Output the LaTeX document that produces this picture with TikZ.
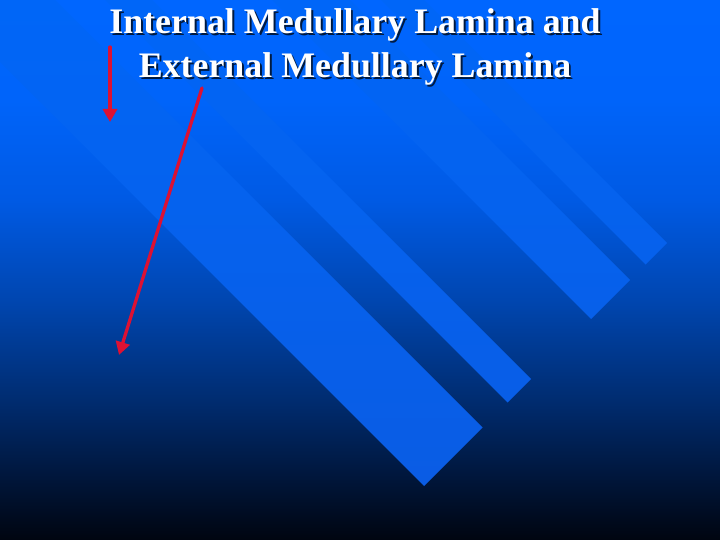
\documentclass[tikz,border=0pt]{standalone}
\usepackage{fontspec}
\setmainfont{Liberation Serif}
\usepackage{xcolor}
\usepackage{tikz}
\usetikzlibrary{arrows.meta}
\definecolor{bgA}{HTML}{0066FF}
\definecolor{bgB}{HTML}{0064FA}
\definecolor{bgC}{HTML}{005AE4}
\definecolor{bgD}{HTML}{0046B0}
\definecolor{bgE}{HTML}{002C70}
\definecolor{bgF}{HTML}{001840}
\definecolor{bgG}{HTML}{000510}
\definecolor{bandA}{HTML}{0066F8}
\definecolor{bandB}{HTML}{0562EE}
\definecolor{bandC}{HTML}{0A5CE4}
\definecolor{ptr}{HTML}{DD1133}
\definecolor{ink}{HTML}{FFFFFF}
\definecolor{shade}{HTML}{001A40}
\pgfdeclareverticalshading{slidebg}{100bp}{%
  color(0bp)=(bgG); color(25bp)=(bgG); color(31.48bp)=(bgF);
  color(37.96bp)=(bgE); color(47.22bp)=(bgD); color(56.48bp)=(bgC);
  color(65.74bp)=(bgB); color(75bp)=(bgA); color(100bp)=(bgA)}
\pgfdeclareverticalshading{bandsh}{100bp}{%
  color(0bp)=(bandC); color(29.63bp)=(bandC); color(56.48bp)=(bandB);
  color(75bp)=(bandA); color(100bp)=(bandA)}
\newcommand{\shtext}[1]{\makebox[0pt][l]{\hspace*{2bp}\raisebox{-2bp}{\textcolor{shade}{#1}}}#1}
\tikzset{
  ptr/.style={draw=ptr, line width=3.3bp, line cap=round,
    -{Triangle[length=13bp,width=14bp]}},
  ttl/.style={text=ink, font=\fontsize{36}{44}\bfseries\selectfont, anchor=base, inner sep=0pt},
}

\begin{document}
\begin{tikzpicture}[x=1bp,y=-1bp]
  \useasboundingbox (0,0) rectangle (720,540);
  \shade[shading=slidebg] (0,0) rectangle (720,540);
  % the four slanted bands
  \begin{scope}
    \clip \foreach \lo/\hi in {62/-55,-105/-152,-272/-350,-381/-424} {
      ({(910-\lo)/2},{(910+\lo)/2}) -- ({(910-\hi)/2},{(910+\hi)/2})
      -- ({(-300-\hi)/2},{(-300+\hi)/2}) -- ({(-300-\lo)/2},{(-300+\lo)/2}) -- cycle };
    \shade[shading=bandsh] (0,0) rectangle (720,540);
  \end{scope}
  % title
  \node[ttl] (ttlA) at (355,34) {\shtext{Internal Medullary Lamina and}};
  \node[ttl] (ttlB) at (355,78) {\shtext{External Medullary Lamina}};
  % pointers
  \coordinate (inS) at (110,47);
  \coordinate (inE) at (110,122);
  \coordinate (exS) at (202,88);
  \coordinate (exE) at (119,355);
  \draw[ptr] (inS) -- (inE);
  \draw[ptr] (exS) -- (exE);
\end{tikzpicture}
\end{document}
